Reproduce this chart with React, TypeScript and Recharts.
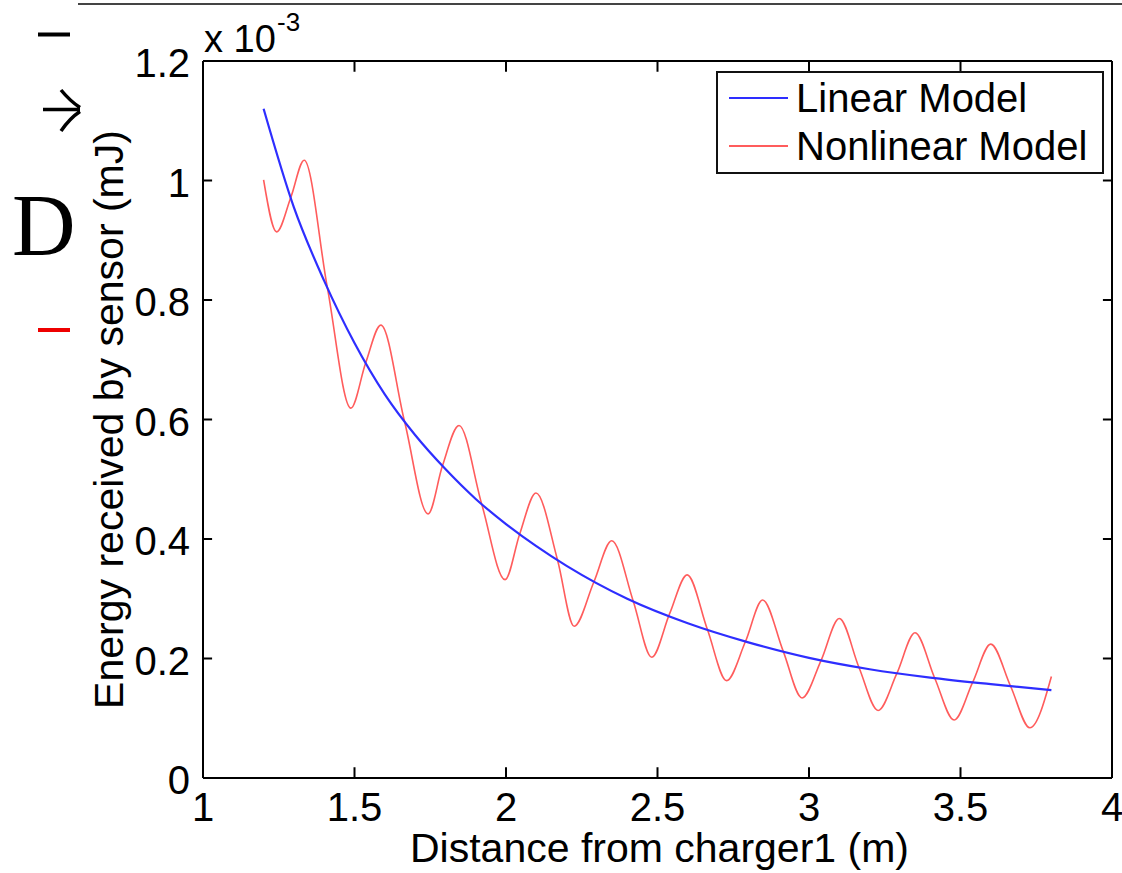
import * as React from 'react';
import { LineChart, Line, XAxis, YAxis, Legend, ReferenceLine } from 'recharts';

// distance from charger1 (m)
const xTicks = [1, 1.5, 2, 2.5, 3, 3.5, 4];
// energy, in units of 1e-3 mJ
const yTicks = [0, 0.2, 0.4, 0.6, 0.8, 1, 1.2];

const linearDist = [1.2, 1.3, 1.4, 1.5, 1.6, 1.7, 1.8, 1.9, 2.0, 2.1, 2.2, 2.4, 2.6, 2.8, 3.0, 3.2, 3.4, 3.6, 3.8];
const linearEnergy = [1.12, 0.955, 0.832, 0.728, 0.642, 0.574, 0.517, 0.467, 0.425, 0.388, 0.355, 0.3, 0.259, 0.227, 0.201, 0.182, 0.168, 0.157, 0.147];

const nonlinDist = [
  1.2, 1.243, 1.29, 1.334, 1.41, 1.488, 1.537, 1.587, 1.665, 1.743, 1.79, 1.845,
  1.92, 1.997, 2.045, 2.099, 2.17, 2.225, 2.29, 2.349, 2.42, 2.481, 2.54, 2.598,
  2.665, 2.728, 2.79, 2.847, 2.915, 2.977, 3.04, 3.1, 3.165, 3.228, 3.29, 3.35,
  3.415, 3.479, 3.54, 3.6, 3.665, 3.729, 3.8,
];
const nonlinEnergy = [
  1.001, 0.914, 0.972, 1.034, 0.822, 0.619, 0.695, 0.758, 0.597, 0.442, 0.522, 0.59,
  0.458, 0.332, 0.408, 0.477, 0.365, 0.254, 0.328, 0.397, 0.296, 0.202, 0.275, 0.34,
  0.248, 0.163, 0.228, 0.298, 0.212, 0.134, 0.197, 0.267, 0.185, 0.113, 0.175, 0.243,
  0.167, 0.097, 0.16, 0.224, 0.154, 0.084, 0.17,
];

const linearData = linearDist.map((x, i) => ({ x, e: linearEnergy[i] }));
const nonlinData = nonlinDist.map((x, i) => ({ x, e: nonlinEnergy[i] }));

const X_MIN = 1;
const X_MAX = 4;
const Y_MIN = 0;
const Y_MAX = 1.2;
// inward tick length (~9px) expressed in axis units
const TICK_DX = 0.03;
const TICK_DY = 0.018;

const FONT = '"Liberation Sans", Arial, Helvetica, sans-serif';
const BLUE = '#2e2eff';
const RED = '#ff5c5c';
const axisStyle = { stroke: '#000', strokeWidth: 2 };

const BottomTick = (props: any) => {
  const { x, y, payload } = props;
  return (
    <text x={x} y={y + 28} textAnchor="middle" fontSize={40} fontFamily={FONT} fill="#000">
      {String(payload.value)}
    </text>
  );
};

const LeftTick = (props: any) => {
  const { x, y, payload } = props;
  return (
    <text x={x} y={y + 16} textAnchor="end" fontSize={40} fontFamily={FONT} fill="#000">
      {String(payload.value)}
    </text>
  );
};

const YTitle = (props: any) => {
  const vb = props.viewBox;
  const cy = vb.y + vb.height / 2;
  return (
    <g>
      <text
        x={123}
        y={cy}
        transform={`rotate(-90 123 ${cy})`}
        textAnchor="middle"
        fontSize={41}
        fontFamily={FONT}
        fill="#000"
      >
        Energy received by sensor (mJ)
      </text>
      <text x={vb.x + vb.width + 1} y={52} fontSize={38} fontFamily={FONT} fill="#000">
        x 10
      </text>
      <text x={vb.x + vb.width + 74} y={31} fontSize={26} fontFamily={FONT} fill="#000">
        -3
      </text>
    </g>
  );
};

const XTitle = (props: any) => {
  const vb = props.viewBox;
  return (
    <text x={vb.x + vb.width / 2 + 2} y={862} textAnchor="middle" fontSize={41} fontFamily={FONT} fill="#000">
      Distance from charger1 (m)
    </text>
  );
};

const LegendBox = () => (
  <svg width={388} height={103} style={{ display: 'block' }}>
    <rect x={1} y={1} width={386} height={101} fill="#fff" stroke="#111" strokeWidth={2} />
    <line x1={13} y1={27} x2={72} y2={27} stroke={BLUE} strokeWidth={2} />
    <text x={80} y={41} fontSize={40} fontFamily={FONT} fill="#000">Linear Model</text>
    <line x1={13} y1={75} x2={72} y2={75} stroke={RED} strokeWidth={2} />
    <text x={80} y={89} fontSize={40} fontFamily={FONT} fill="#000">Nonlinear Model</text>
  </svg>
);

// matlab style: tick marks point into the box on all four sides
const innerTicks = [
  ...xTicks.slice(1, -1).map((t) => [{ x: t, y: Y_MIN }, { x: t, y: Y_MIN + TICK_DY }]),
  ...xTicks.slice(1, -1).map((t) => [{ x: t, y: Y_MAX }, { x: t, y: Y_MAX - TICK_DY }]),
  ...yTicks.slice(1, -1).map((t) => [{ x: X_MIN, y: t }, { x: X_MIN + TICK_DX, y: t }]),
  ...yTicks.slice(1, -1).map((t) => [{ x: X_MAX, y: t }, { x: X_MAX - TICK_DX, y: t }]),
];

export default function App() {
  return (
    <div style={{ position: 'absolute', left: 0, top: 0, width: 1122, height: 873, background: '#fff' }}>
      {/* bits of the surrounding page that show around the figure */}
      <svg width={1122} height={873} style={{ position: 'absolute', left: 0, top: 0 }}>
        <line x1={78} y1={4} x2={1122} y2={4} stroke="#444" strokeWidth={2} />
        <line x1={38} y1={34.5} x2={70} y2={34.5} stroke="#000" strokeWidth={4} />
        <path d="M43 109.5 H80 M61 90 Q70 101 80 107.5 M80 111.5 Q70 118 61 131" stroke="#000" strokeWidth={3.5} fill="none" />
        <text x={12} y={255} fontSize={88} fontFamily='"Liberation Serif", "Times New Roman", serif' fill="#000">D</text>
        <line x1={38} y1={330} x2={70} y2={330} stroke="#e00" strokeWidth={4} />
      </svg>
      <div style={{ position: 'absolute', left: 0, top: 0 }}>
        <LineChart width={1122} height={873} margin={{ top: 61, right: 10, bottom: 0, left: 0 }}>
          <XAxis
            dataKey="x"
            type="number"
            domain={[X_MIN, X_MAX]}
            ticks={xTicks}
            height={95}
            tickSize={0}
            tickMargin={15}
            tick={<BottomTick />}
            axisLine={axisStyle}
            tickLine={false}
            label={{ content: <XTitle /> }}
          />
          <YAxis
            type="number"
            domain={[Y_MIN, Y_MAX]}
            ticks={yTicks}
            width={203}
            tickSize={0}
            tickMargin={13}
            tick={<LeftTick />}
            axisLine={axisStyle}
            tickLine={false}
            label={{ content: <YTitle /> }}
          />
          {/* top and right sides of the box */}
          <ReferenceLine y={Y_MAX} stroke="#000" strokeWidth={2} ifOverflow="visible" />
          <ReferenceLine x={X_MAX} stroke="#000" strokeWidth={2} ifOverflow="visible" />
          {innerTicks.map((seg, i) => (
            <ReferenceLine key={i} segment={seg} stroke="#000" strokeWidth={2} ifOverflow="visible" />
          ))}
          <Legend
            layout="vertical"
            align="center"
            verticalAlign="middle"
            content={<LegendBox />}
            wrapperStyle={{ top: 71, left: 716, width: 388, height: 103 }}
          />
          <Line
            data={nonlinData}
            dataKey="e"
            name="Nonlinear Model"
            type="monotone"
            stroke={RED}
            strokeWidth={1.6}
            dot={false}
            activeDot={false}
            isAnimationActive={false}
          />
          <Line
            data={linearData}
            dataKey="e"
            name="Linear Model"
            type="monotone"
            stroke={BLUE}
            strokeWidth={2.2}
            dot={false}
            activeDot={false}
            isAnimationActive={false}
          />
        </LineChart>
      </div>
    </div>
  );
}
